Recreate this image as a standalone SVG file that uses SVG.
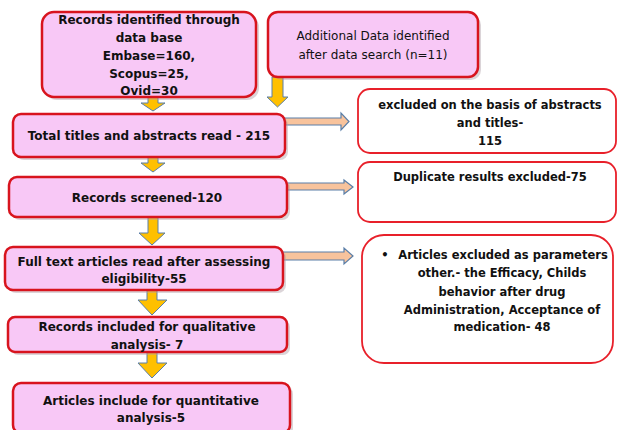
<svg xmlns="http://www.w3.org/2000/svg" width="618" height="430" viewBox="0 0 618 430">
<defs>
<style>
.pk{fill:#f8c8f6;stroke:#d8141e;stroke-width:2.5}
.wt{fill:#ffffff;stroke:#e8202a;stroke-width:1.8}
.sh{fill:#b0a0a8;opacity:0.45}
.t{font-family:"DejaVu Sans",Verdana,sans-serif;font-weight:bold;font-size:12px;fill:#111;text-anchor:middle;dominant-baseline:central}
.s{font-size:11.5px}
.tn{font-family:"DejaVu Sans",Verdana,sans-serif;font-size:12px;fill:#111;text-anchor:middle;dominant-baseline:central}
.ya{fill:#ffc000;stroke:#5b7fa8;stroke-width:1}
.oa{fill:#f8c39c;stroke:#5b7fa8;stroke-width:1.2}
</style>
</defs>
<rect width="618" height="430" fill="#ffffff"/>
<g id="connectors">
<polygon class="ya" points="148,97 158,97 158,103 165,103 153,111 141,103 148,103"/>
<polygon class="ya" points="272,77 283,77 283,97 288,97 277.5,107 267,97 272,97"/>
<polygon class="ya" points="148,157 158,157 158,163 165,163 153,172 141,163 148,163"/>
<polygon class="ya" points="148,217 158,217 158,233 165,233 152,245 139,233 148,233"/>
<polygon class="ya" points="147,290 157,290 157,300 167,300 152,315 138,300 147,300"/>
<polygon class="ya" points="147,352 157,352 157,363 167,363 152,378 138,363 147,363"/>
<polygon class="oa" points="277,118 341,118 341,113 349,121.5 341,130 341,125 277,125"/>
<polygon class="oa" points="280,183 344,183 344,180 353,187 344,194 344,190 280,190"/>
<polygon class="oa" points="283,252 344,252 344,248 353,256 344,264 344,260 283,260"/>
</g>
<g id="n1">
<rect class="sh" x="45" y="15" width="214" height="85" rx="12"/>
<rect class="pk" x="42" y="12" width="214" height="85" rx="12"/>
<text class="t" x="149" y="20">Records identified through</text>
<text class="t" x="149" y="38">data base</text>
<text class="t" x="149" y="56">Embase=160,</text>
<text class="t" x="149" y="74">Scopus=25,</text>
<text class="t" x="149" y="91">Ovid=30</text>
</g>
<g id="n2">
<rect class="sh" x="271" y="15" width="210" height="65" rx="10"/>
<rect class="pk" x="268" y="12" width="210" height="65" rx="10"/>
<text class="tn" x="373" y="36">Additional Data identified</text>
<text class="tn" x="373" y="55">after data search (n=11)</text>
</g>
<g id="n3">
<rect class="sh" x="16" y="117" width="272" height="43" rx="8"/>
<rect class="pk" x="13" y="114" width="272" height="43" rx="8"/>
<text class="t" x="149" y="136">Total titles and abstracts read - 215</text>
</g>
<g id="n4">
<rect class="sh" x="12" y="180" width="278" height="40" rx="8"/>
<rect class="pk" x="9" y="177" width="278" height="40" rx="8"/>
<text class="t" x="147" y="198">Records screened-120</text>
</g>
<g id="n5">
<rect class="sh" x="8" y="250" width="278" height="43" rx="8"/>
<rect class="pk" x="5" y="247" width="278" height="43" rx="8"/>
<text class="t" x="144" y="262">Full text articles read after assessing</text>
<text class="t" x="144" y="279">eligibility-55</text>
</g>
<g id="n6">
<rect class="sh" x="11" y="320" width="279" height="35" rx="7"/>
<rect class="pk" x="8" y="317" width="279" height="35" rx="7"/>
<text class="t" x="147" y="327">Records included for qualitative</text>
<text class="t" x="147" y="345">analysis- 7</text>
</g>
<g id="n7">
<rect class="sh" x="16" y="386" width="277" height="50" rx="8"/>
<rect class="pk" x="13" y="383" width="277" height="50" rx="8"/>
<text class="t" x="151" y="401">Articles include for quantitative</text>
<text class="t" x="151" y="418">analysis-5</text>
</g>
<g id="n8">
<rect class="wt" x="358" y="89" width="258" height="64" rx="12"/>
<text class="t s" x="490" y="105">excluded on the basis of abstracts</text>
<text class="t s" x="490" y="123">and titles-</text>
<text class="t s" x="490" y="141">115</text>
</g>
<g id="n9">
<rect class="wt" x="358" y="162" width="258" height="60" rx="12"/>
<text class="t s" x="490" y="177">Duplicate results excluded-75</text>
</g>
<g id="n10">
<rect class="wt" x="362" y="235" width="251" height="128" rx="22"/>
<text class="t s" x="385" y="255">•</text>
<text class="t s" x="503" y="255">Articles excluded as parameters</text>
<text class="t s" x="502" y="273">other.- the Efficacy, Childs</text>
<text class="t s" x="502" y="292">behavior after drug</text>
<text class="t s" x="502" y="310">Administration, Acceptance of</text>
<text class="t s" x="502" y="327">medication- 48</text>
</g>
</svg>
